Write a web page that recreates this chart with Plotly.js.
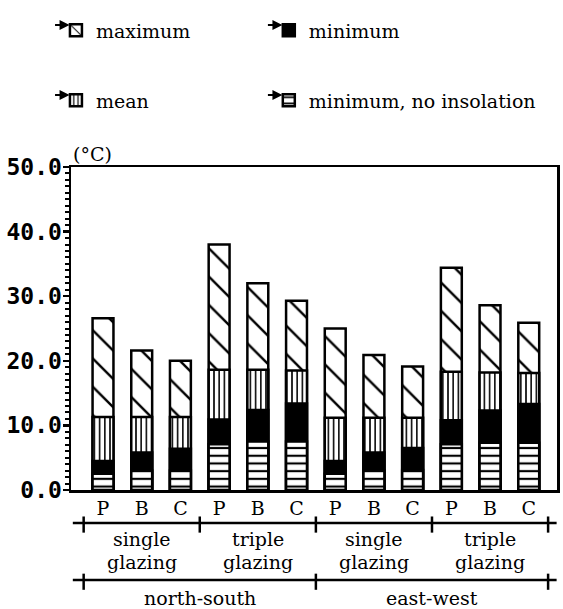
<!DOCTYPE html>
<html>
<head>
<meta charset="utf-8">
<script src="https://cdn.plot.ly/plotly-3.0.1.min.js"></script>
<style>html,body{margin:0;padding:0;background:#fff;}#chart{width:563px;height:609px;}</style>
</head>
<body>
<div id="chart"></div>
<script>
// ---- data ----
const xPos = [0,1,2,3,4,5,6,7,8,9,10,11];
const barLabels = ['P','B','C','P','B','C','P','B','C','P','B','C'];
const maxVals = [26.6, 21.6, 20.0, 38.0, 32.0, 29.3, 25.0, 20.9, 19.1, 34.4, 28.6, 25.9];
const meanVals = [11.3, 11.3, 11.3, 18.6, 18.6, 18.5, 11.2, 11.2, 11.2, 18.3, 18.2, 18.1];
const minVals = [4.5, 5.8, 6.4, 10.9, 12.4, 13.4, 4.5, 5.8, 6.5, 10.8, 12.3, 13.3];
const noInsolVals = [2.5, 3.0, 3.0, 7.1, 7.5, 7.5, 2.5, 3.0, 3.1, 7.1, 7.3, 7.3];
const glazingTop = ['single', 'triple', 'single', 'triple'];
const glazingBottom = ['glazing', 'glazing', 'glazing', 'glazing'];
const glazingCenters = [1, 4, 7, 10];
const glazingBounds = [-0.5, 2.5, 5.5, 8.5, 11.5];
const orientGroups = ['north-south', 'east-west'];
const orientCenters = [2.5, 8.5];
const orientBounds = [-0.5, 5.5, 11.5];

const serif = 'DejaVu Serif';
const lineSty = {color: '#000', width: 2.5};
const bw = 0.54;

const traces = [
  {type:'bar', x:xPos, y:maxVals, name:'maximum', width:bw, legend:'legend',
   marker:{color:'#fff', line:lineSty, pattern:{shape:'\\', size:20, solidity:0.12, fgcolor:'#000', bgcolor:'#fff'}}},
  {type:'bar', x:xPos, y:meanVals, name:'mean', width:bw, legend:'legend3',
   marker:{color:'#fff', line:lineSty, pattern:{shape:'|', size:5.2, solidity:0.3, fgcolor:'#000', bgcolor:'#fff'}}},
  {type:'bar', x:xPos, y:minVals, name:'minimum', width:bw, legend:'legend2',
   marker:{color:'#000', line:lineSty}},
  {type:'bar', x:xPos, y:noInsolVals, name:'minimum, no insolation', width:bw, legend:'legend4',
   marker:{color:'#fff', line:lineSty, pattern:{shape:'-', size:7.7, solidity:0.28, fgcolor:'#000', bgcolor:'#fff'}}}
];

const shapes = [];
const annotations = [];
const yG = -0.102, yO = -0.279;
const txtFont = {family:serif, size:19, color:'#000'};
// group lines
shapes.push({type:'line', xref:'x', yref:'paper', x0:-0.78, x1:11.72, y0:yG, y1:yG, line:{color:'#000', width:2.5}});
shapes.push({type:'line', xref:'x', yref:'paper', x0:-0.78, x1:11.72, y0:yO, y1:yO, line:{color:'#000', width:2.5}});
glazingBounds.forEach(b => shapes.push({type:'line', xref:'x', yref:'paper', x0:b, x1:b, y0:yG+0.02, y1:yG-0.03, line:{color:'#000', width:2.5}}));
orientBounds.forEach(b => shapes.push({type:'line', xref:'x', yref:'paper', x0:b, x1:b, y0:yO+0.02, y1:yO-0.03, line:{color:'#000', width:2.5}}));
glazingTop.forEach((t,i) => annotations.push({xref:'x', yref:'paper', x:glazingCenters[i], y:-0.152, yanchor:'middle', text:t, showarrow:false, font:txtFont}));
glazingBottom.forEach((t,i) => annotations.push({xref:'x', yref:'paper', x:glazingCenters[i], y:-0.222, yanchor:'middle', text:t, showarrow:false, font:txtFont}));
orientGroups.forEach((t,i) => annotations.push({xref:'x', yref:'paper', x:orientCenters[i], y:-0.334, yanchor:'middle', text:t, showarrow:false, font:txtFont}));
annotations.push({xref:'paper', yref:'paper', x:0, y:1, xanchor:'left', yanchor:'bottom', text:'(°C)', showarrow:false, font:{family:serif, size:19, color:'#000'}});

// legend pointer arrows (decorative)
const legX = [-0.031, 0.407];
const legY = [1.423, 1.206];
const arrowHeads = [[-0.003, 1.44], [0.435, 1.44], [-0.003, 1.223], [0.435, 1.223]];
arrowHeads.forEach(p => annotations.push({xref:'paper', yref:'paper', x:p[0], y:p[1], ax:-16, ay:0, text:'', showarrow:true, arrowhead:2, arrowsize:1, arrowwidth:2, arrowcolor:'#000'}));

function leg(x, y){
  return {orientation:'v', x:x, xanchor:'left', y:y, yanchor:'middle', font:txtFont, bgcolor:'rgba(0,0,0,0)'};
}

const layout = {
  width:563, height:609,
  margin:{l:71, r:6, t:167, b:119},
  paper_bgcolor:'#fff', plot_bgcolor:'#fff',
  barmode:'overlay',
  showlegend:true,
  legend:leg(legX[0], legY[0]),
  legend2:leg(legX[1], legY[0]),
  legend3:leg(legX[0], legY[1]),
  legend4:leg(legX[1], legY[1]),
  xaxis:{range:[-0.827, 11.73], tickvals:xPos, ticktext:barLabels, showgrid:false, zeroline:false,
    showline:true, linecolor:'#000', linewidth:2.5, mirror:true, ticks:'',
    tickfont:{family:serif, size:19, color:'#000'}},
  yaxis:{range:[0,50], dtick:10, tickformat:'.1f', showgrid:false, zeroline:false,
    showline:true, linecolor:'#000', linewidth:2.5, mirror:true,
    ticks:'outside', ticklen:6, tickwidth:2.5, tickcolor:'#000', ticklabelstandoff:-4,
    minor:{dtick:1, ticks:'outside', ticklen:4, tickwidth:2, tickcolor:'#000'},
    tickfont:{family:'DejaVu Sans Mono', size:23, weight:'bold', color:'#000'}},
  shapes:shapes, annotations:annotations
};
Plotly.newPlot('chart', traces, layout, {displayModeBar:false, staticPlot:true});
</script>
</body>
</html>
